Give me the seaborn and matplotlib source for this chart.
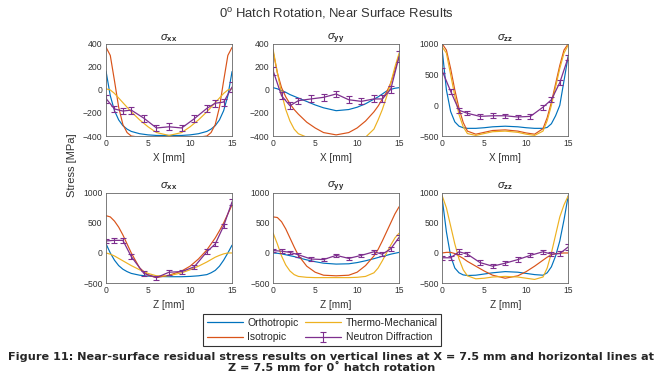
import numpy as np
import pandas as pd
import matplotlib
matplotlib.use("Agg")
import matplotlib.pyplot as plt
import seaborn as sns

# positions along the line [mm]
x_fe = [0, 0.5, 1, 1.5, 2, 2.5, 3, 4, 5, 6, 7.5, 9, 10, 11, 12, 12.5, 13, 13.5, 14, 14.5, 15]
x_nd = [0, 1, 2, 3, 4.5, 6, 7.5, 9, 10.5, 12, 13, 14, 15]

# top row: vertical lines at X = 7.5 mm (plotted against X)
top_xx_ortho = [160, -50, -180, -260, -310, -340, -360, -380, -390, -395, -395, -395, -390, -380, -360, -340, -310, -260, -180, -50, 160]
top_xx_iso = [370, 300, 80, -150, -300, -370, -400, -410, -410, -410, -410, -410, -410, -410, -400, -370, -300, -150, 80, 300, 370]
top_xx_thermo = [10, 0, -30, -70, -110, -150, -190, -260, -320, -370, -395, -370, -320, -260, -190, -150, -110, -70, -30, 0, 10]
top_xx_nd = [-75, -165, -183, -175, -245, -330, -320, -330, -250, -160, -115, -105, 25]
top_xx_err = [35, 30, 30, 30, 30, 30, 30, 30, 30, 30, 30, 30, 40]

top_yy_ortho = [20, 10, -5, -20, -40, -55, -70, -100, -130, -155, -180, -170, -150, -120, -80, -60, -35, -10, 5, 15, 20]
top_yy_iso = [330, 150, 20, -60, -120, -170, -210, -280, -330, -370, -390, -370, -330, -270, -190, -140, -80, -20, 60, 170, 300]
top_yy_thermo = [350, 150, -30, -170, -270, -340, -380, -410, -420, -420, -420, -420, -420, -410, -340, -260, -170, -60, 60, 200, 320]
top_yy_nd = [165, -50, -137, -93, -78, -64, -35, -85, -99, -78, -78, 6, 290]
top_yy_err = [35, 30, 30, 25, 30, 30, 30, 30, 25, 30, 30, 30, 45]

top_zz_ortho = [900, 250, -100, -270, -340, -365, -375, -375, -365, -350, -340, -350, -365, -375, -375, -360, -300, -170, 0, 400, 800]
top_zz_iso = [1000, 900, 600, 250, -50, -280, -420, -470, -440, -410, -400, -420, -450, -470, -380, -200, 50, 350, 650, 900, 1000]
top_zz_thermo = [950, 850, 500, 150, -150, -350, -460, -490, -460, -430, -420, -440, -470, -490, -420, -250, 0, 300, 600, 850, 980]
top_zz_nd = [560, 230, -80, -130, -180, -170, -170, -190, -180, -30, 90, 370, 780]
top_zz_err = [40, 40, 40, 35, 40, 40, 35, 35, 35, 40, 40, 40, 45]

# bottom row: horizontal lines at Z = 7.5 mm (plotted against Z)
bot_xx_ortho = [150, 0, -120, -210, -270, -310, -340, -370, -385, -390, -395, -395, -390, -380, -360, -330, -290, -220, -120, 0, 130]
bot_xx_iso = [620, 600, 530, 430, 300, 150, 0, -250, -370, -410, -370, -300, -220, -100, 50, 150, 250, 370, 500, 650, 800]
bot_xx_thermo = [0, -20, -50, -90, -130, -170, -210, -280, -340, -380, -380, -330, -280, -220, -150, -110, -70, -40, -15, 0, 0]
bot_xx_nd = [200, 210, 210, -60, -340, -410, -320, -310, -230, 20, 150, 450, 850]
bot_xx_err = [40, 45, 45, 40, 35, 35, 40, 35, 35, 40, 40, 40, 50]

bot_yy_ortho = [0, -5, -15, -30, -45, -60, -80, -115, -145, -170, -185, -180, -160, -130, -95, -75, -55, -40, -20, -5, 10]
bot_yy_iso = [600, 590, 520, 400, 250, 100, -40, -220, -320, -370, -380, -370, -320, -210, -50, 60, 200, 350, 500, 650, 770]
bot_yy_thermo = [330, 150, -50, -200, -300, -360, -390, -405, -410, -410, -410, -410, -405, -390, -330, -250, -130, 0, 130, 250, 330]
bot_yy_nd = [40, 30, 10, -30, -100, -110, -40, -90, -40, 20, -20, 70, 260]
bot_yy_err = [30, 30, 30, 30, 30, 30, 30, 30, 30, 30, 30, 35, 45]

bot_zz_ortho = [900, 350, -50, -250, -330, -365, -375, -370, -350, -330, -310, -320, -340, -360, -370, -330, -230, -50, 200, 550, 950]
bot_zz_iso = [0, 10, 10, -10, -50, -90, -140, -220, -300, -370, -420, -380, -310, -220, -120, -70, -30, -10, -5, 0, 0]
bot_zz_thermo = [950, 750, 450, 150, -100, -280, -380, -430, -420, -400, -390, -400, -420, -440, -400, -250, 0, 300, 600, 800, 950]
bot_zz_nd = [-80, -80, 20, -20, -160, -220, -170, -110, -40, 20, -20, -10, 100]
bot_zz_err = [35, 35, 40, 35, 35, 35, 35, 35, 35, 35, 35, 35, 45]

models = ["Orthotropic", "Isotropic", "Thermo-Mechanical"]
colors = {"Orthotropic": "#0072BD", "Isotropic": "#D95319", "Thermo-Mechanical": "#EDB120"}
nd_color = "#7E2F8E"

panels = [
    ("xx", "X", [-400, 400], [-400, -200, 0, 200, 400], top_xx_ortho, top_xx_iso, top_xx_thermo, top_xx_nd, top_xx_err),
    ("yy", "X", [-400, 400], [-400, -200, 0, 200, 400], top_yy_ortho, top_yy_iso, top_yy_thermo, top_yy_nd, top_yy_err),
    ("zz", "X", [-500, 1000], [-500, 0, 500, 1000], top_zz_ortho, top_zz_iso, top_zz_thermo, top_zz_nd, top_zz_err),
    ("xx", "Z", [-500, 1000], [-500, 0, 500, 1000], bot_xx_ortho, bot_xx_iso, bot_xx_thermo, bot_xx_nd, bot_xx_err),
    ("yy", "Z", [-500, 1000], [-500, 0, 500, 1000], bot_yy_ortho, bot_yy_iso, bot_yy_thermo, bot_yy_nd, bot_yy_err),
    ("zz", "Z", [-500, 1000], [-500, 0, 500, 1000], bot_zz_ortho, bot_zz_iso, bot_zz_thermo, bot_zz_nd, bot_zz_err),
]

sns.set_style("white")
plt.rcParams['font.family'] = ['Liberation Sans', 'DejaVu Sans']
plt.rcParams['mathtext.fontset'] = 'custom'
plt.rcParams['mathtext.rm'] = 'Liberation Sans'
plt.rcParams['mathtext.it'] = 'Liberation Sans:italic'
plt.rcParams['mathtext.bf'] = 'Liberation Sans:bold'

fig = plt.figure(figsize=(6.63, 3.92), dpi=100)

lefts = [0.160, 0.412, 0.667]
bottoms = [0.653, 0.278]
heights = [0.235, 0.230]
spine_col = "#666666"

for i, (comp, axis_name, ylim, yticks, ortho, iso, thermo, nd, err) in enumerate(panels):
    row, col = divmod(i, 3)
    ax = fig.add_axes([lefts[col], bottoms[row], 0.190, heights[row]])

    df = pd.DataFrame({
        "pos": x_fe * 3,
        "stress": ortho + iso + thermo,
        "model": [m for m in models for _ in x_fe],
    })
    sns.lineplot(data=df, x="pos", y="stress", hue="model", hue_order=models,
                 palette=colors, linewidth=0.85, legend=False, ax=ax)
    ax.errorbar(x_nd, nd, yerr=err, color=nd_color, linewidth=0.9,
                elinewidth=0.8, capsize=2.2, capthick=0.8, label="Neutron Diffraction")

    ax.set_xlim(0, 15)
    ax.set_ylim(*ylim)
    ax.set_xticks([0, 5, 10, 15])
    ax.set_yticks(yticks)
    ax.tick_params(direction="in", length=2, width=0.5, labelsize=6.2,
                   colors="#333333", pad=2.5)
    for sp in ax.spines.values():
        sp.set_color(spine_col)
        sp.set_linewidth(0.6)
    ax.set_xlabel(f"{axis_name} [mm]", fontsize=7.2, color="#333333", labelpad=3)
    ax.set_ylabel("")
    ax.set_title(r"$\sigma_{\mathbf{" + comp + "}}$", fontsize=8, pad=3)

fig.text(0.109, 0.579, "Stress [MPa]", rotation=90, ha="center", va="center",
         fontsize=8, color="#333333")
fig.text(0.508, 0.965, r"0$^\mathrm{o}$ Hatch Rotation, Near Surface Results",
         ha="center", va="center", fontsize=9.4, color="#333333")

handles = [plt.Line2D([], [], color=colors[m], linewidth=0.9) for m in models]
nd_handle = fig.axes[0].containers[0]
leg = fig.legend(handles[:2] + [handles[2], nd_handle],
                 ["Orthotropic", "Isotropic", "Thermo-Mechanical", "Neutron Diffraction"],
                 ncol=2, loc="center", bbox_to_anchor=(0.486, 0.158),
                 fontsize=7.5, frameon=True, fancybox=False, edgecolor="black",
                 handlelength=3.5, handletextpad=0.4, columnspacing=0.6,
                 labelspacing=0.45, borderpad=0.35)
leg.get_frame().set_linewidth(0.8)

fig.text(0.5, 0.076,
         "Figure 11: Near-surface residual stress results on vertical lines at X = 7.5 mm and horizontal lines at\n"
         "Z = 7.5 mm for 0\u02da hatch rotation",
         ha="center", va="center", fontsize=8.1, fontweight="bold",
         family=["DejaVu Sans"], linespacing=1.15)

fig.savefig("out.png", dpi=100, facecolor="white")
